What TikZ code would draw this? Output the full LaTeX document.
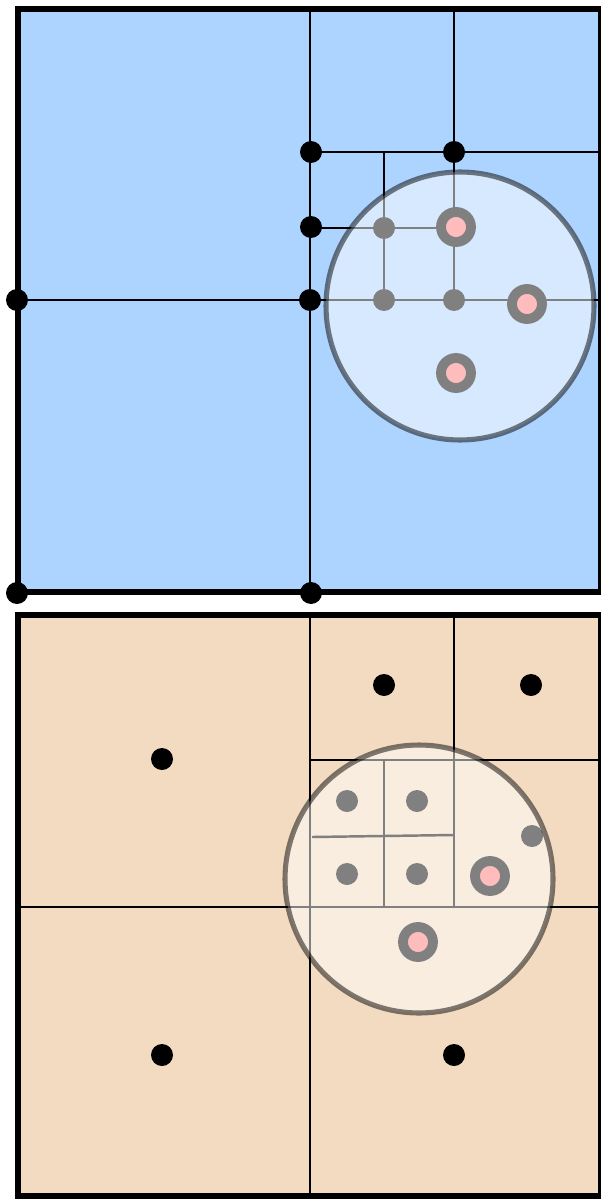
\documentclass[tikz,border=0pt]{standalone}
\usepackage{xcolor}
\definecolor{treeblue}{RGB}{173,211,255}
\definecolor{cellpeach}{RGB}{243,219,194}
\definecolor{hitpink}{RGB}{255,188,188}
\usepackage{tikz}
\tikzset{
    framebox/.style   = {draw=black, line width=3.2pt},
    cellline/.style   = {draw=black, line width=1.4pt},
    gridnode/.style   = {circle, fill=black, inner sep=0pt, minimum size=0.44cm},
    reachdisc/.style  = {draw=black, draw opacity=0.5, line width=2.9pt,
                         fill=white, fill opacity=0.5},
    hitnode/.style    = {circle, draw=gray, line width=5.6pt, fill=hitpink,
                         inner sep=0pt, minimum size=0.6cm}
}

\begin{document}
\begin{tikzpicture}[x=0.02cm, y=-0.02cm]
\useasboundingbox (0,0) rectangle (601,1199);

% top: quadtree of corner points
\fill[treeblue] (18,9) rectangle (601,592);
\coordinate (tl) at (18,300);   \coordinate (tr) at (601,300);
\coordinate (tt) at (310,9);    \coordinate (tb) at (310,592);
\coordinate (qt) at (454,9);    \coordinate (qb) at (454,300);
\coordinate (ql) at (310,152);  \coordinate (qr) at (601,152);
\coordinate (st) at (384,152);  \coordinate (sb) at (384,300);
\coordinate (sl) at (310,228);  \coordinate (sr) at (454,228);
\foreach \a/\b in {tl/tr,tt/tb,qt/qb,ql/qr,st/sb,sl/sr}
   \draw[cellline] (\a) -- (\b);
\foreach \x/\y/\n in {17/300/ta,17/593/tb0,311/593/tc,310/300/td,311/152/te,
                      454/152/tf,311/227/tg,384/228/th,384/300/ti,454/300/tj}
   \node[gridnode] (\n) at (\x,\y) {};
\path[reachdisc] (460,306) circle[radius=2.68cm];
\node[hitnode] (tk) at (456,227) {};
\node[hitnode] (tm) at (527,304) {};
\node[hitnode] (tn) at (456,373) {};
\draw[framebox] (18,9) rectangle (601,592);

% bottom: quadtree of cell centres
\fill[cellpeach] (18,615) rectangle (601,1196);
\coordinate (bl) at (18,907);   \coordinate (br) at (601,907);
\coordinate (bt) at (310,615);  \coordinate (bb) at (310,1196);
\coordinate (pt) at (454,615);  \coordinate (pb) at (454,907);
\coordinate (pl) at (310,760);  \coordinate (pr) at (601,760);
\coordinate (rt) at (384,760);  \coordinate (rb) at (384,907);
\coordinate (rl) at (312,837);  \coordinate (rr) at (454,835);
\foreach \a/\b in {bl/br,bt/bb,pt/pb,pl/pr,rt/rb,rl/rr}
   \draw[cellline] (\a) -- (\b);
\foreach \x/\y/\n in {162/759/ba,162/1055/bc,454/1055/bd,384/685/be,531/685/bf,
                      347/801/bg,417/801/bh,347/874/bi,417/874/bj,532/836/bk}
   \node[gridnode] (\n) at (\x,\y) {};
\path[reachdisc] (419,879) circle[radius=2.68cm];
\node[hitnode] (bm) at (490,876) {};
\node[hitnode] (bn) at (418,942) {};
\draw[framebox] (18,615) rectangle (601,1196);
\end{tikzpicture}
\end{document}
